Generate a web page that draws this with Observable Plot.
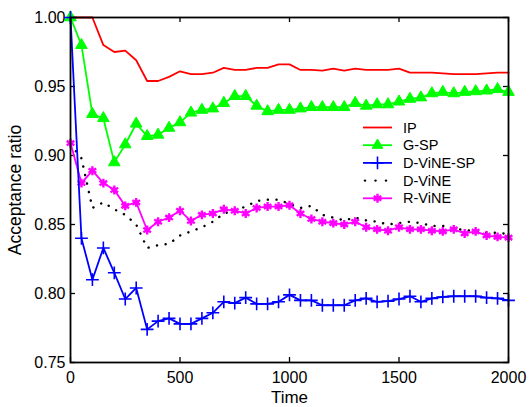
<!DOCTYPE html>
<html>
<head>
<meta charset="utf-8">
<script src="https://cdn.jsdelivr.net/npm/d3@7"></script>
<script src="https://cdn.jsdelivr.net/npm/@observablehq/plot@0.6"></script>
<style>
  html, body { margin: 0; padding: 0; background: #fff; }
  #chart { width: 529px; height: 407px; }
  svg { font-family: "Liberation Sans", Arial, sans-serif; }
</style>
</head>
<body>
<div id="chart"></div>
<script>
const times = [0,50,100,150,200,250,300,350,400,450,500,550,600,650,700,750,800,850,900,950,1000,
  1050,1100,1150,1200,1250,1300,1350,1400,1450,1500,1550,1600,1650,1700,1750,1800,1850,1900,1950,2000];

const ipValues = [1.000,1.000,1.000,0.980,0.975,0.976,0.969,0.954,0.954,0.957,0.961,0.959,0.959,0.960,0.9635,0.962,0.962,0.9635,0.9635,0.966,0.966,
  0.962,0.962,0.9615,0.963,0.9615,0.963,0.962,0.962,0.962,0.963,0.960,0.960,0.960,0.9595,0.959,0.959,0.959,0.9595,0.960,0.960];

const gspValues = [1.000,0.980,0.930,0.927,0.895,0.908,0.923,0.914,0.915,0.920,0.924,0.931,0.933,0.934,0.938,0.943,0.943,0.936,0.932,0.933,0.933,
  0.934,0.935,0.935,0.935,0.935,0.938,0.936,0.937,0.937,0.939,0.941,0.942,0.945,0.946,0.945,0.946,0.9465,0.947,0.948,0.946];

const dvineSpValues = [1.000,0.840,0.810,0.833,0.815,0.796,0.804,0.774,0.780,0.782,0.778,0.778,0.782,0.786,0.794,0.793,0.797,0.7925,0.7925,0.794,0.799,
  0.795,0.795,0.7915,0.7915,0.7915,0.795,0.7965,0.794,0.7945,0.796,0.798,0.794,0.7965,0.7975,0.798,0.798,0.798,0.797,0.7965,0.795];

const dvineValues = [0.908,0.898,0.862,0.866,0.861,0.857,0.850,0.833,0.835,0.836,0.842,0.845,0.848,0.852,0.858,0.860,0.863,0.867,0.868,0.868,0.865,
  0.862,0.8635,0.857,0.855,0.853,0.855,0.853,0.852,0.850,0.851,0.852,0.851,0.849,0.849,0.847,0.846,0.845,0.844,0.844,0.843];

const rvineValues = [0.909,0.880,0.889,0.880,0.875,0.8635,0.866,0.846,0.852,0.855,0.860,0.8525,0.857,0.858,0.861,0.860,0.858,0.862,0.863,0.863,0.864,
  0.858,0.854,0.852,0.851,0.850,0.852,0.848,0.8465,0.8455,0.848,0.8465,0.8465,0.8455,0.845,0.8465,0.8435,0.845,0.842,0.841,0.8405];

const seriesNames = ["IP", "G-SP", "D-ViNE-SP", "D-ViNE", "R-ViNE"];
const xTicks = [0, 500, 1000, 1500, 2000];
const yTicks = [0.75, 0.80, 0.85, 0.90, 0.95, 1.00];
const xLabel = "Time";
const yLabel = "Acceptance ratio";

const colors = {"IP": "#ff0000", "G-SP": "#00ff00", "D-ViNE-SP": "#0000ff", "D-ViNE": "#000000", "R-ViNE": "#ff00ff"};

const mk = (vals) => times.map((t, i) => ({t, v: vals[i]}));
const ip = mk(ipValues), gsp = mk(gspValues), dsp = mk(dvineSpValues), dv = mk(dvineValues), rv = mk(rvineValues);

const W = 529, H = 407, mL = 70, mR = 21, mT = 17, mB = 45;
const plotH = H - mT - mB, plotW = W - mL - mR;
const tickLen = 5;
const fs = 16;

const svg = Plot.plot({
  width: W, height: H,
  marginLeft: mL, marginRight: mR, marginTop: mT, marginBottom: mB,
  style: {fontFamily: '"Liberation Sans", Arial, sans-serif', fontSize: fs + "px", color: "black", background: "white"},
  x: {domain: [0, 2000]},
  y: {domain: [0.75, 1.0]},
  marks: [
    Plot.axisX({ticks: xTicks, tickSize: 0, tickPadding: 9, tickFormat: d => String(d), fontSize: fs, label: null}),
    Plot.axisX({ticks: [], tickSize: 0, fontSize: 17, label: xLabel, labelAnchor: "center", labelOffset: 40.5, labelArrow: "none"}),
    Plot.axisY({ticks: yTicks, tickSize: 0, tickPadding: 5, tickFormat: d3.format(".2f"), fontSize: fs, label: null}),
    Plot.axisY({ticks: [], tickSize: 0, fontSize: 17.5, label: yLabel, labelAnchor: "center", labelOffset: 62, labelArrow: "none"}),
    Plot.tickX(xTicks, {x: d => d, stroke: "black", strokeWidth: 1.3, insetTop: plotH - tickLen}),
    Plot.tickX(xTicks, {x: d => d, stroke: "black", strokeWidth: 1.3, insetBottom: plotH - tickLen}),
    Plot.tickY(yTicks, {y: d => d, stroke: "black", strokeWidth: 1.3, insetRight: plotW - tickLen}),
    Plot.tickY(yTicks, {y: d => d, stroke: "black", strokeWidth: 1.3, insetLeft: plotW - tickLen}),
    // IP
    Plot.line(ip, {x: "t", y: "v", stroke: colors["IP"], strokeWidth: 1.8}),
    // G-SP
    Plot.line(gsp, {x: "t", y: "v", stroke: colors["G-SP"], strokeWidth: 1.8}),
    Plot.dot(gsp, {x: "t", y: "v", symbol: "triangle", fill: colors["G-SP"], stroke: colors["G-SP"], strokeWidth: 1, r: 4.3}),
    // D-ViNE (dotted)
    Plot.line(dv, {x: "t", y: "v", stroke: colors["D-ViNE"], strokeWidth: 2.4, strokeDasharray: "0.1 8.6", strokeLinecap: "round"}),
    // R-ViNE
    Plot.line(rv, {x: "t", y: "v", stroke: colors["R-ViNE"], strokeWidth: 1.8}),
    Plot.dot(rv, {x: "t", y: "v", symbol: "asterisk", stroke: colors["R-ViNE"], strokeWidth: 2.4, r: 4.2}),
    Plot.dot(rv, {x: "t", y: "v", symbol: "diamond2", fill: colors["R-ViNE"], r: 2.6}),
    // D-ViNE-SP
    Plot.line(dsp, {x: "t", y: "v", stroke: colors["D-ViNE-SP"], strokeWidth: 1.8}),
    Plot.dot(dsp, {x: "t", y: "v", symbol: "plus", stroke: colors["D-ViNE-SP"], strokeWidth: 1.6, r: 4.2}),
    Plot.frame({stroke: "black", strokeWidth: 1.8})
  ]
});

document.getElementById("chart").appendChild(svg);

// Legend (inside the plot area, no box)
const leg = d3.select(svg).append("g")
  .attr("font-family", '"Liberation Sans", Arial, sans-serif')
  .attr("font-size", 14.5)
  .attr("text-anchor", "start");
const lx0 = 363, lx1 = 392, ltx = 403, ly0 = 127.5, ldy = 17.7;
seriesNames.forEach((name, i) => {
  const y = ly0 + i * ldy;
  const c = colors[name];
  const g = leg.append("g");
  if (name === "D-ViNE") {
    [365, 375.5, 386].forEach(x => g.append("circle").attr("cx", x).attr("cy", y).attr("r", 1.2).attr("fill", c));
  } else {
    g.append("line").attr("x1", lx0).attr("x2", lx1).attr("y1", y).attr("y2", y)
      .attr("stroke", c).attr("stroke-width", 1.8);
    const cx = (lx0 + lx1) / 2;
    if (name === "G-SP") {
      g.append("path").attr("d", d3.symbol(d3.symbolTriangle, 50)()).attr("transform", `translate(${cx},${y})`)
        .attr("fill", c).attr("stroke", c);
    } else if (name === "D-ViNE-SP") {
      g.append("path").attr("d", d3.symbol(d3.symbolPlus, 55)()).attr("transform", `translate(${cx},${y})`)
        .attr("fill", "none").attr("stroke", c).attr("stroke-width", 1.6);
    } else if (name === "R-ViNE") {
      g.append("path").attr("d", d3.symbol(d3.symbolAsterisk, 55)()).attr("transform", `translate(${cx},${y})`)
        .attr("fill", "none").attr("stroke", c).attr("stroke-width", 2.4);
      g.append("path").attr("d", d3.symbol(d3.symbolDiamond2, 20)()).attr("transform", `translate(${cx},${y})`)
        .attr("fill", c);
    }
  }
  g.append("text").attr("x", ltx).attr("y", y).attr("dy", "0.35em").attr("fill", "black").attr("text-anchor", "start").text(name);
});
</script>
</body>
</html>
